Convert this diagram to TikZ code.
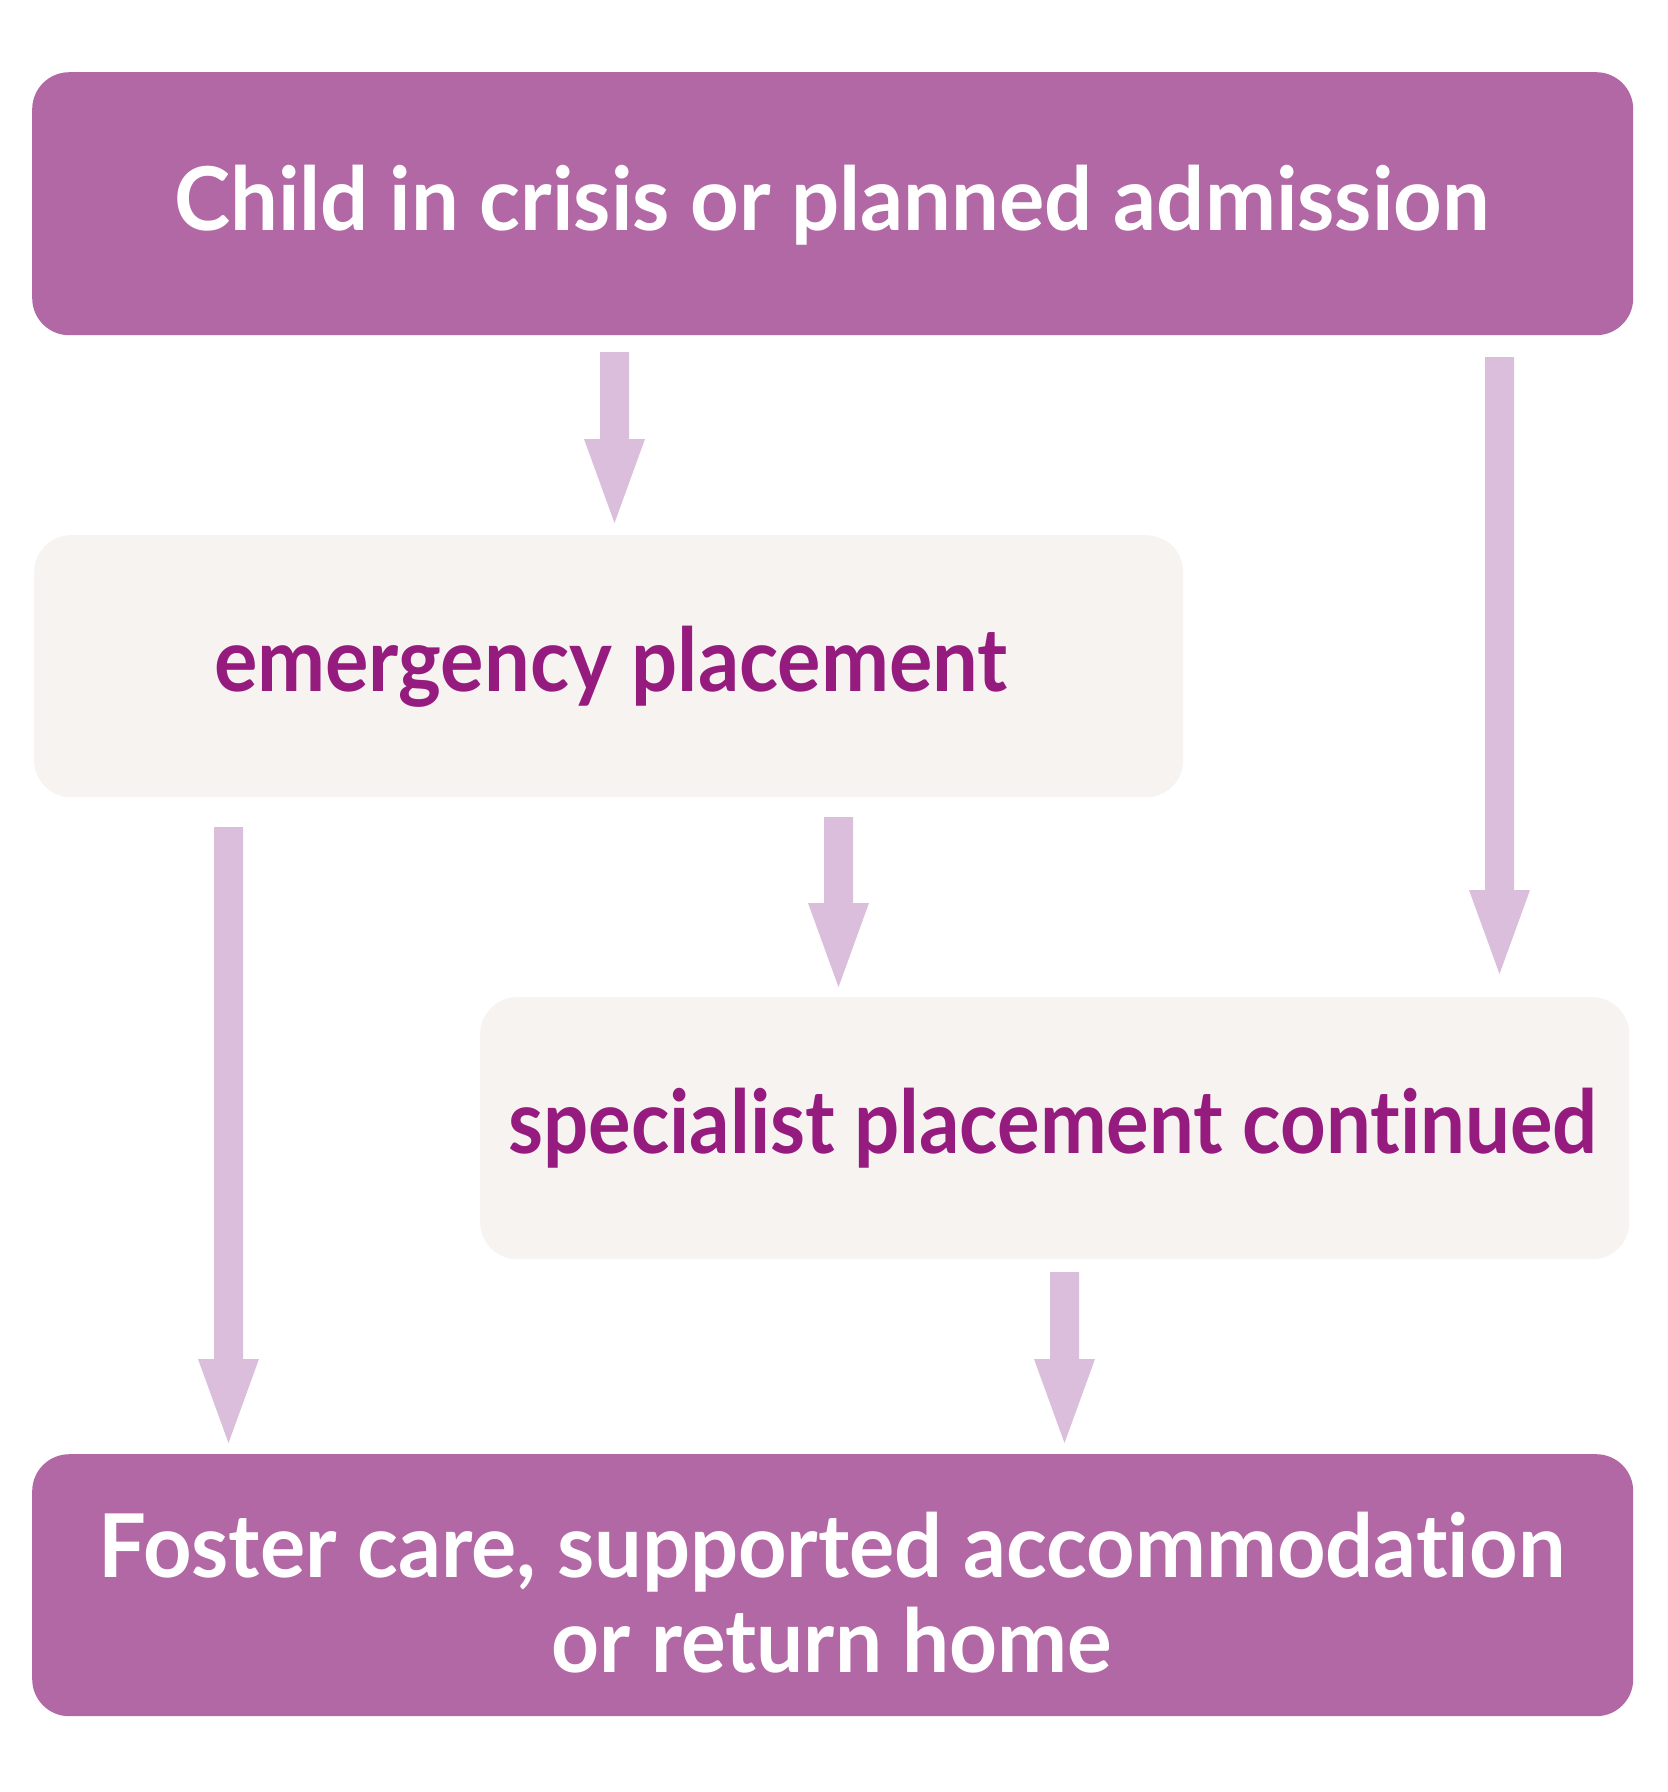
\documentclass[tikz,border=0pt]{standalone}
\usepackage{graphicx}
\usepackage{fontspec}
\setmainfont{Lato}[Ligatures={NoCommon}]
\usetikzlibrary{calc}
\definecolor{boxdark}{HTML}{B268A5}
\definecolor{boxlight}{HTML}{F6F3F0}
\definecolor{arrowcol}{HTML}{DBBEDB}
\definecolor{txtpurple}{HTML}{951B7E}
\newcommand\sqz[2]{\scalebox{#1}[1]{#2}}
\newcommand\blockarrow[2]{%
  \fill[arrowcol] let \p1=(#1), \p2=(#2) in
    (\x1-14.5pt,\y1) -- (\x1+14.5pt,\y1) -- (\x1+14.5pt,\y2+84pt) -- (\x1+30.5pt,\y2+84pt)
    -- (\x2,\y2) -- (\x1-30.5pt,\y2+84pt) -- (\x1-14.5pt,\y2+84pt) -- cycle;}
\begin{document}
\begin{tikzpicture}[x=1pt,y=-1pt,
  darkbox/.style={fill=boxdark, rounded corners=37pt, inner sep=0pt, anchor=north west},
  lightbox/.style={fill=boxlight, rounded corners=37pt, inner sep=0pt, anchor=north west},
  whitetxt/.style={text=white, inner sep=0pt, anchor=base, font=\fontsize{88}{94}\selectfont\bfseries},
  purpletxt/.style={text=txtpurple, inner sep=0pt, anchor=base, font=\fontsize{88}{94}\selectfont\bfseries}]
\useasboundingbox (0,0) rectangle (1668,1792);
\fill[white] (0,0) rectangle (1668,1792);
% boxes
\node[darkbox, minimum width=1601pt, minimum height=263pt] (top) at (32,72) {};
\node[lightbox, minimum width=1149pt, minimum height=262pt] (emerg) at (34,535) {};
\node[lightbox, minimum width=1149pt, minimum height=262pt] (spec) at (480,997) {};
\node[darkbox, minimum width=1601pt, minimum height=262pt] (bottom) at (32,1454) {};
% texts
\node[whitetxt] (toptxt) at (832,230) {\sqz{0.964}{Child in crisis or planned admission}};
\node[purpletxt] (emergtxt) at (611,691) {\sqz{0.923}{emergency placement}};
\node[purpletxt] (spectxt) at (1053,1153) {\sqz{0.905}{specialist placement continued}};
\node[whitetxt] (bottxtA) at (832,1577) {\sqz{0.962}{Foster care, supported accommodation}};
\node[whitetxt] (bottxtB) at (832,1672) {\sqz{0.95}{or return home}};
% arrow end points
\coordinate (a1s) at (614.5,352);  \coordinate (a1e) at (614.5,523);
\coordinate (a2s) at (1499.5,357); \coordinate (a2e) at (1499.5,974);
\coordinate (a3s) at (228.5,827);  \coordinate (a3e) at (228.5,1443);
\coordinate (a4s) at (838.5,817);  \coordinate (a4e) at (838.5,987);
\coordinate (a5s) at (1064.5,1272); \coordinate (a5e) at (1064.5,1443);
\blockarrow{a1s}{a1e}
\blockarrow{a2s}{a2e}
\blockarrow{a3s}{a3e}
\blockarrow{a4s}{a4e}
\blockarrow{a5s}{a5e}
\end{tikzpicture}
\end{document}
